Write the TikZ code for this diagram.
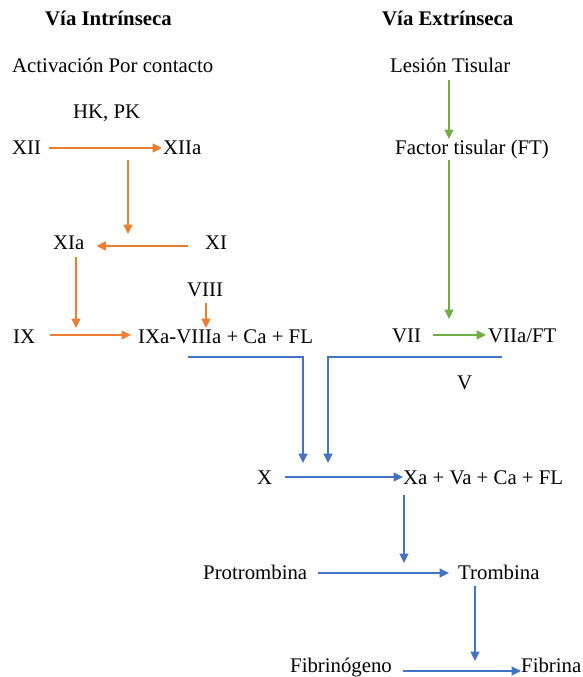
\documentclass[tikz,border=0pt]{standalone}
\usepackage{fontspec}
\setmainfont{Liberation Serif}
\usetikzlibrary{arrows.meta}
\definecolor{orng}{HTML}{ED7D31}
\definecolor{grn}{HTML}{70AD47}
\definecolor{blu}{HTML}{4472C4}
\begin{document}
\begin{tikzpicture}[x=1pt,y=-1pt,
  lbl/.style={anchor=base west,inner sep=0pt,font=\fontsize{20.8}{24}\selectfont},
  ttl/.style={lbl,font=\fontsize{20.8}{24}\selectfont\bfseries},
  tip/.style={-{Triangle[length=9.5pt,width=9pt]}},
  oa/.style={tip,draw=orng,line width=1.4pt},
  ga/.style={tip,draw=grn,line width=1.4pt},
  ba/.style={tip,draw=blu,line width=1.4pt},
  bl/.style={draw=blu,line width=1.4pt}]
\fill[white] (0,0) rectangle (583,677);
\useasboundingbox (0,0) rectangle (583,677);
% texts (placed by baseline)
\node[ttl] (vi) at (45,25.5) {Vía Intrínseca};
\node[ttl] (ve) at (382,25.5) {Vía Extrínseca};
\node[lbl] (act) at (12,72) {Activación Por contacto};
\node[lbl] (les) at (390,72.5) {Lesión Tisular};
\node[lbl] (hk) at (73,118.5) {HK, PK};
\node[lbl] (xii) at (12,154.5) {XII};
\node[lbl] (xiia) at (163,154.5) {XIIa};
\node[lbl] (ft) at (395,154.5) {Factor tisular (FT)};
\node[lbl] (xia) at (53,249.5) {XIa};
\node[lbl] (xi) at (205,249.5) {XI};
\node[lbl] (viii) at (187,296.5) {VIII};
\node[lbl] (ix) at (13,343.5) {IX};
\node[lbl] (ixa) at (138,343.5) {IXa-VIIIa + Ca + FL};
\node[lbl] (vii) at (392,342.5) {VII};
\node[lbl] (viia) at (488,342.5) {VIIa/FT};
\node[lbl] (v) at (457,389.5) {V};
\node[lbl] (x) at (257,484.5) {X};
\node[lbl] (xa) at (403,484.5) {Xa + Va + Ca + FL};
\node[lbl] (pro) at (203,579.5) {Protrombina};
\node[lbl] (tro) at (458,579.5) {Trombina};
\node[lbl] (fbg) at (290,672) {Fibrinógeno};
\node[lbl] (fbr) at (521,672) {Fibrina};
% coordinates
\coordinate (c1) at (128,160);
\coordinate (c2) at (128,234);
\coordinate (c3) at (76,257);
\coordinate (c4) at (76,328);
\coordinate (c5) at (206,303);
\coordinate (c6) at (206,328);
\coordinate (g1) at (449,80);
\coordinate (g2) at (449,139);
\coordinate (g3) at (449,160);
\coordinate (g4) at (449,319);
\coordinate (b1) at (188,357);
\coordinate (b2) at (303,357);
\coordinate (b3) at (303,463);
\coordinate (b4) at (502,357);
\coordinate (b5) at (328,357);
\coordinate (b6) at (328,463);
\coordinate (b7) at (404,495);
\coordinate (b8) at (404,563);
\coordinate (b9) at (475,586);
\coordinate (b10) at (475,661);
% orange
\draw[oa] ([xshift=8pt,yshift=6.5pt]xii.base east) -- ([xshift=-1pt,yshift=6.5pt]xiia.base west);
\draw[oa] (c1) -- (c2);
\draw[oa] ([xshift=-17pt,yshift=3.5pt]xi.base west) -- ([xshift=12pt,yshift=3.5pt]xia.base east);
\draw[oa] (c3) -- (c4);
\draw[oa] (c5) -- (c6);
\draw[oa] ([xshift=15pt,yshift=8.5pt]ix.base east) -- ([xshift=-7pt,yshift=8.5pt]ixa.base west);
% green
\draw[ga] (g1) -- (g2);
\draw[ga] (g3) -- (g4);
\draw[ga] ([xshift=12pt,yshift=7.5pt]vii.base east) -- ([xshift=-2pt,yshift=7.5pt]viia.base west);
% blue
\draw[bl,tip] (b1) -- (b2) -- (b3);
\draw[bl,tip] (b4) -- (b5) -- (b6);
\draw[ba] ([xshift=13pt,yshift=7.5pt]x.base east) -- ([xshift=0pt,yshift=7.5pt]xa.base west);
\draw[ba] (b7) -- (b8);
\draw[ba] ([xshift=11pt,yshift=6.5pt]pro.base east) -- ([xshift=-9pt,yshift=6.5pt]tro.base west);
\draw[ba] (b9) -- (b10);
\draw[ba] ([xshift=11pt,yshift=1pt]fbg.base east) -- ([xshift=0pt,yshift=1pt]fbr.base west);
\end{tikzpicture}
\end{document}
